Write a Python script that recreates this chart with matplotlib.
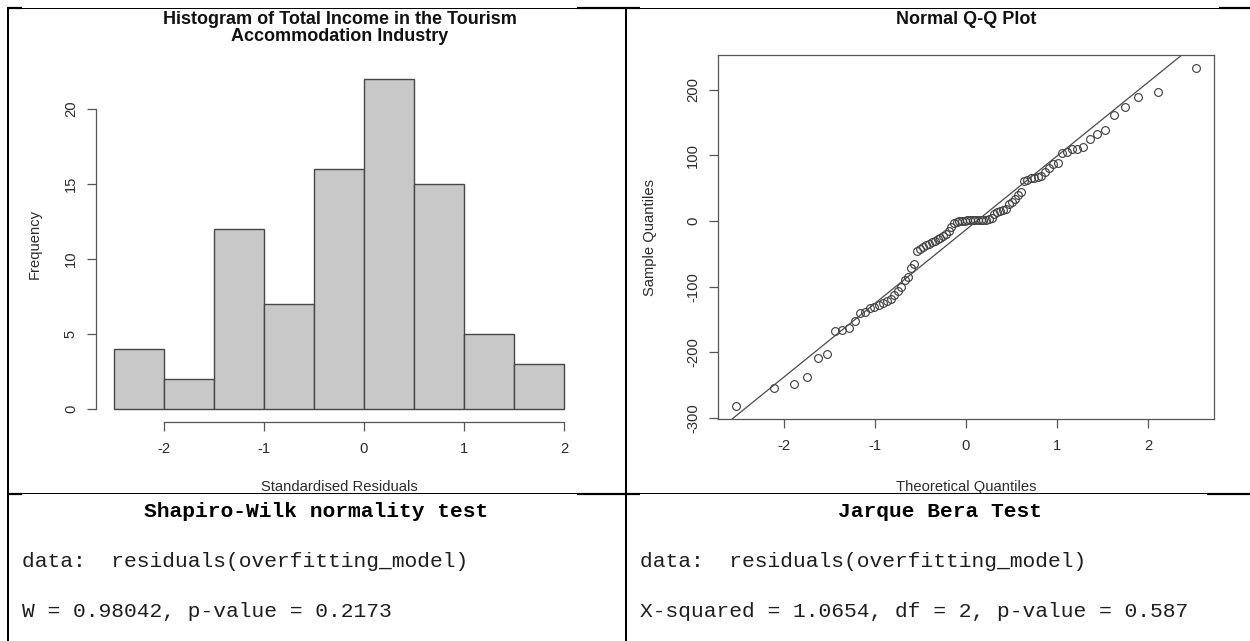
import matplotlib
matplotlib.use("Agg")
import matplotlib.pyplot as plt
from matplotlib.lines import Line2D
from statistics import NormalDist
import numpy as np

plt.rcParams["axes.unicode_minus"] = False

W_PX, H_PX = 1250, 641

# histogram of the standardised residuals
bin_edges = [-2.5, -2.0, -1.5, -1.0, -0.5, 0.0, 0.5, 1.0, 1.5, 2.0]
bin_counts = [4, 2, 12, 7, 16, 22, 15, 5, 3]
hist_xticks = [-2, -1, 0, 1, 2]
hist_yticks = [0, 5, 10, 15, 20]

# sorted residuals of the model (86 obs) for the normal Q-Q plot
sample_quantiles = [
    -281, -255, -249, -238, -209, -202, -168, -166, -163, -152,
    -140, -139, -133, -131, -128, -125, -122, -119, -113, -106,
    -100, -90, -86, -72, -65, -46, -43, -40, -37, -35,
    -32, -30, -28, -26, -23, -20, -15, -9, -3, -1,
    0, 0.5, 0.5, 0.8, 1, 1, 1.2, 1.5, 1.5, 1.8,
    2, 2.5, 4, 10, 14, 15, 16, 18, 26, 29,
    34, 39, 44, 60, 63, 65, 66, 67, 69, 74,
    80, 86, 88, 103, 105, 109, 110, 112, 124, 132,
    138, 161, 173, 188, 196, 232,
]
qq_xticks = [-2, -1, 0, 1, 2]
qq_yticks = [-300, -200, -100, 0, 100, 200]

# test output printed under the plots
sw_title = "Shapiro-Wilk normality test"
sw_data = "data:  residuals(overfitting_model)"
sw_result = "W = 0.98042, p-value = 0.2173"
jb_title = "Jarque Bera Test"
jb_data = "data:  residuals(overfitting_model)"
jb_result = "X-squared = 1.0654, df = 2, p-value = 0.587"

AX_COL = "#555555"
TXT_COL = "#2b2b2b"
SANS = ["Liberation Sans", "DejaVu Sans"]
MONO = ["Liberation Mono", "DejaVu Sans Mono"]
LAB_SIZE = 10.6
MONO_SIZE = 15.3


def fx(x):
    return x / W_PX


def fy(y):
    return 1 - y / H_PX


def px_box(left, top, right, bottom):
    return [fx(left), fy(bottom), (right - left) / W_PX, (bottom - top) / H_PX]


def r_range(lo, hi):
    # R style 4% padding
    d = (hi - lo) * 0.04
    return lo - d, hi + d


def hline(fig, y, x0, x1, lw=1.0):
    fig.add_artist(Line2D([fx(x0), fx(x1)], [fy(y), fy(y)], transform=fig.transFigure,
                          color="black", linewidth=lw * 0.72, solid_capstyle="butt"))


def vline(fig, x, y0, y1, lw=1.0):
    fig.add_artist(Line2D([fx(x), fx(x)], [fy(y0), fy(y1)], transform=fig.transFigure,
                          color="black", linewidth=lw * 0.72, solid_capstyle="butt"))


def style_axis(ax):
    ax.tick_params(direction="out", length=6.5, width=0.9, color=AX_COL,
                   labelsize=LAB_SIZE, labelcolor=TXT_COL)
    ax.tick_params(axis="x", pad=8)
    ax.tick_params(axis="y", pad=6.5)
    for lab in ax.get_yticklabels():
        lab.set_rotation(90)
        lab.set_va("center")
    for lab in ax.get_xticklabels() + ax.get_yticklabels():
        lab.set_family(SANS)


fig = plt.figure(figsize=(W_PX / 100, H_PX / 100), dpi=100)

# ---- histogram ----
ax_h = fig.add_axes(px_box(96, 65.8, 582, 422.2))
widths = np.diff(bin_edges)
ax_h.bar(bin_edges[:-1], bin_counts, width=widths, align="edge",
         color="#c8c8c8", edgecolor="#474747", linewidth=1.0)
ax_h.set_xlim(*r_range(min(bin_edges), max(bin_edges)))
ax_h.set_ylim(*r_range(0, max(bin_counts)))
for s in ["top", "right"]:
    ax_h.spines[s].set_visible(False)
ax_h.spines["left"].set_bounds(hist_yticks[0], hist_yticks[-1])
ax_h.spines["bottom"].set_bounds(hist_xticks[0], hist_xticks[-1])
for s in ["left", "bottom"]:
    ax_h.spines[s].set_color(AX_COL)
    ax_h.spines[s].set_linewidth(0.9)
ax_h.set_xticks(hist_xticks)
ax_h.set_yticks(hist_yticks)
ax_h.set_facecolor("none")
style_axis(ax_h)

# ---- normal Q-Q plot ----
n = len(sample_quantiles)
nd = NormalDist()
theo = [nd.inv_cdf((i + 0.5) / n) for i in range(n)]
q1, q3 = np.quantile(sample_quantiles, [0.25, 0.75])
slope = (q3 - q1) / (nd.inv_cdf(0.75) - nd.inv_cdf(0.25))
intercept = q1 - slope * nd.inv_cdf(0.25)

ax_q = fig.add_axes(px_box(718, 55, 1214, 419))
ax_q.plot(theo, sample_quantiles, "o", mfc="none", mec="#3a3a3a", ms=5.6, mew=0.8)
ax_q.axline((0, intercept), slope=slope, color="#4a4a4a", linewidth=0.9)
ax_q.set_xlim(*r_range(min(theo), max(theo)))
ax_q.set_ylim(*r_range(min(sample_quantiles), max(sample_quantiles)))
for s in ax_q.spines.values():
    s.set_color(AX_COL)
    s.set_linewidth(0.9)
ax_q.set_xticks(qq_xticks)
ax_q.set_yticks(qq_yticks)
style_axis(ax_q)

# titles and axis labels
fig.text(fx(340), fy(28), "Histogram of Total Income in the Tourism\nAccommodation Industry",
         ha="center", va="center", fontsize=13, fontweight="bold", family=SANS,
         color="#111111", linespacing=1.0)
fig.text(fx(966), fy(19), "Normal Q-Q Plot", ha="center", va="center",
         fontsize=13, fontweight="bold", family=SANS, color="#111111")
fig.text(fx(35), fy(244), "Frequency", ha="center", va="center", rotation=90,
         fontsize=LAB_SIZE, family=SANS, color=TXT_COL)
fig.text(fx(339), fy(487), "Standardised Residuals", ha="center", va="center",
         fontsize=LAB_SIZE, family=SANS, color=TXT_COL)
fig.text(fx(650), fy(237), "Sample Quantiles", ha="center", va="center", rotation=90,
         fontsize=LAB_SIZE, family=SANS, color=TXT_COL)
fig.text(fx(966), fy(487), "Theoretical Quantiles", ha="center", va="center",
         fontsize=LAB_SIZE, family=SANS, color=TXT_COL)

# test results, one console line every 50 px
mono_col = "#1e1e1e"
rows_y = [517, 567, 617]
fig.text(fx(316), fy(rows_y[0]), sw_title, ha="center", va="baseline", fontsize=MONO_SIZE,
         fontweight="bold", family=MONO, color="black")
fig.text(fx(22), fy(rows_y[1]), sw_data, ha="left", va="baseline", fontsize=MONO_SIZE,
         family=MONO, color=mono_col)
fig.text(fx(22), fy(rows_y[2]), sw_result, ha="left", va="baseline", fontsize=MONO_SIZE,
         family=MONO, color=mono_col)
fig.text(fx(940), fy(rows_y[0]), jb_title, ha="center", va="baseline", fontsize=MONO_SIZE,
         fontweight="bold", family=MONO, color="black")
fig.text(fx(640), fy(rows_y[1]), jb_data, ha="left", va="baseline", fontsize=MONO_SIZE,
         family=MONO, color=mono_col)
fig.text(fx(640), fy(rows_y[2]), jb_result, ha="left", va="baseline", fontsize=MONO_SIZE,
         family=MONO, color=mono_col)

# table grid
hline(fig, 7.5, 7, 1250)
hline(fig, 493, 7, 1250)
vline(fig, 7.5, 7, 641, lw=2)
vline(fig, 625.5, 7, 641, lw=2)
for y in (8, 493.5):
    hline(fig, y, 7, 22, lw=2.2)
    hline(fig, y, 577, 640, lw=2.2)
hline(fig, 8, 1219, 1250, lw=2.2)
hline(fig, 493.5, 1207, 1250, lw=2.2)

fig.savefig("out.png", dpi=100, facecolor="white")
